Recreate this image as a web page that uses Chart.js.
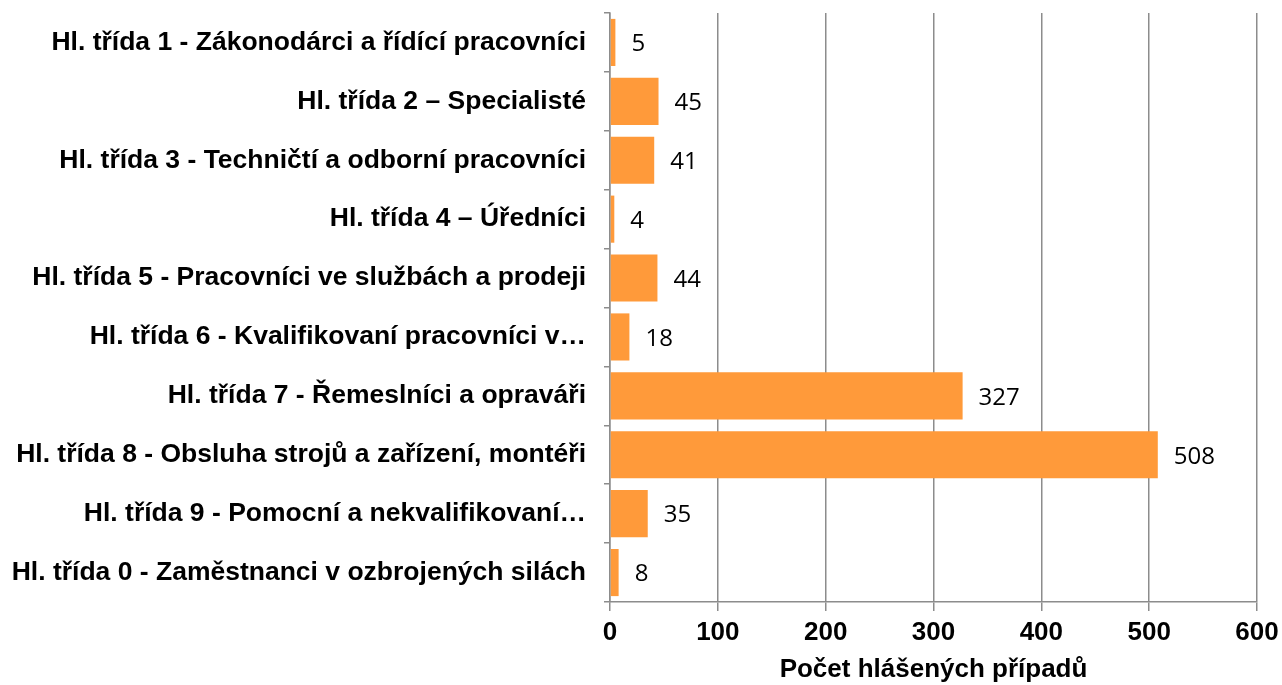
<!DOCTYPE html>
<html>
<head>
<meta charset="utf-8">
<script src="https://cdn.jsdelivr.net/npm/chart.js@4.4.1/dist/chart.umd.min.js"></script>
<style>
  html, body { margin: 0; padding: 0; background: #fff; }
  #wrap { width: 1282px; height: 685px; position: relative; }
</style>
</head>
<body>
<div id="wrap"><canvas id="chart"></canvas></div>
<script>
// kategorie (hlavní třídy CZ-ISCO)
const categories = [
    'Hl. třída 1 - Zákonodárci a řídící pracovníci',
    'Hl. třída 2 – Specialisté',
    'Hl. třída 3 - Techničtí a odborní pracovníci',
    'Hl. třída 4 – Úředníci',
    'Hl. třída 5 - Pracovníci ve službách a prodeji',
    'Hl. třída 6 - Kvalifikovaní pracovníci v…',
    'Hl. třída 7 - Řemeslníci a opraváři',
    'Hl. třída 8 - Obsluha strojů a zařízení, montéři',
    'Hl. třída 9 - Pomocní a nekvalifikovaní…',
    'Hl. třída 0 - Zaměstnanci v ozbrojených silách'
];
const caseCounts = [5, 45, 41, 4, 44, 18, 327, 508, 35, 8];
const xTicks = [0, 100, 200, 300, 400, 500, 600];
const xTitle = 'Počet hlášených případů';

const barColor = '#FF9A3A';
const gridColor = '#8C8C8C';

// popisky hodnot vpravo od sloupců
const valueLabels = {
    id: 'valueLabels',
    afterDatasetsDraw(chart) {
        const ctx = chart.ctx;
        const meta = chart.getDatasetMeta(0);
        ctx.save();
        ctx.font = '24px "Open Sans", "Liberation Sans", sans-serif';
        ctx.fillStyle = '#000';
        ctx.textAlign = 'left';
        ctx.textBaseline = 'middle';
        meta.data.forEach((bar, i) => {
            ctx.fillText(String(caseCounts[i]), bar.x + 16, bar.y + 2);
        });
        ctx.restore();
    }
};

new Chart(document.getElementById('chart'), {
    type: 'bar',
    data: {
        labels: categories,
        datasets: [{
            data: caseCounts,
            backgroundColor: barColor,
            borderWidth: 0,
            barPercentage: 0.8,
            categoryPercentage: 1.0
        }]
    },
    options: {
        indexAxis: 'y',
        responsive: true,
        maintainAspectRatio: false,
        animation: false,
        layout: { padding: { top: 13, right: 25, left: 0, bottom: 0 } },
        scales: {
            x: {
                min: 0,
                max: 600,
                afterBuildTicks: (axis) => { axis.ticks = xTicks.map(v => ({ value: v })); },
                grid: { color: gridColor, lineWidth: 1.5, tickLength: 9 },
                border: { color: gridColor, width: 1.5 },
                ticks: {
                    color: '#000',
                    padding: 6,
                    font: { family: '"Liberation Sans", Arial, sans-serif', size: 26, weight: 'bold' }
                },
                title: {
                    display: true,
                    text: xTitle,
                    color: '#000',
                    padding: { top: 4, bottom: 0 },
                    font: { family: '"Liberation Sans", Arial, sans-serif', size: 26, weight: 'bold' }
                },
                afterFit: (axis) => {
                    axis.height = 83;
                    axis.paddingLeft = 0;
                    axis.paddingRight = 0;
                }
            },
            y: {
                grid: { drawOnChartArea: false, color: gridColor, lineWidth: 1.5, tickLength: 6, offset: true },
                border: { color: gridColor, width: 1.5 },
                ticks: {
                    color: '#000',
                    padding: 18,
                    autoSkip: false,
                    font: { family: '"Liberation Sans", Arial, sans-serif', size: 26.5, weight: 'bold' }
                },
                afterFit: (axis) => {
                    axis.width = 610;
                    axis.paddingTop = 0;
                    axis.paddingBottom = 0;
                }
            }
        },
        plugins: {
            legend: { display: false },
            tooltip: { enabled: false }
        }
    },
    plugins: [valueLabels]
});
</script>
</body>
</html>
